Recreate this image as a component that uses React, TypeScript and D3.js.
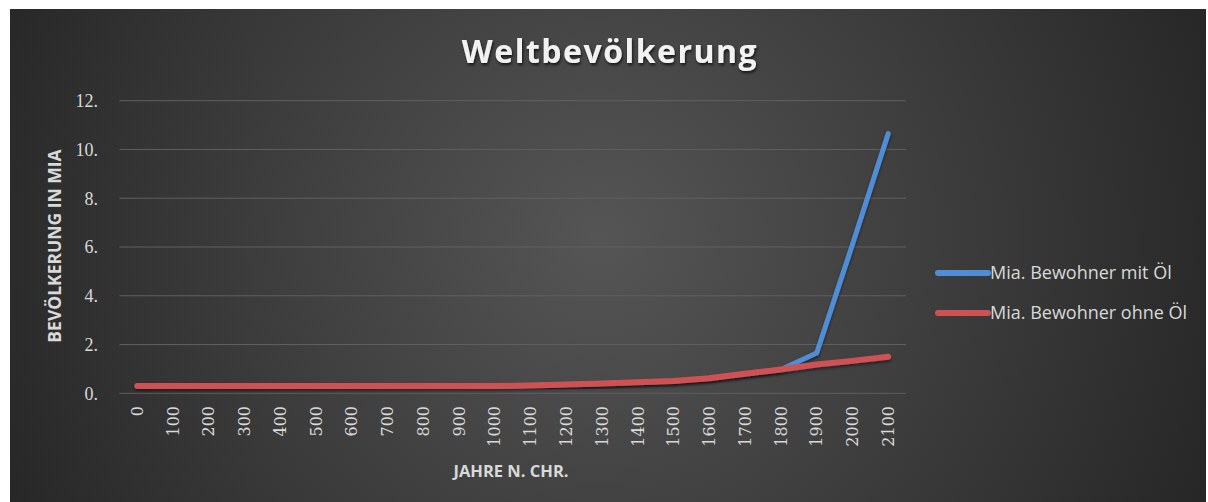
import * as d3 from 'd3'
import { useRef, useEffect } from 'react'

const years = ['0', '100', '200', '300', '400', '500', '600', '700', '800', '900', '1000',
    '1100', '1200', '1300', '1400', '1500', '1600', '1700', '1800', '1900', '2000', '2100']

const mitOel = [0.3, 0.3, 0.3, 0.3, 0.3, 0.3, 0.3, 0.3, 0.3, 0.3, 0.3,
    0.32, 0.36, 0.4, 0.45, 0.5, 0.62, 0.8, 0.98, 1.65, 6.1, 10.65]

const ohneOel = [0.3, 0.3, 0.3, 0.3, 0.3, 0.3, 0.3, 0.3, 0.3, 0.3, 0.3,
    0.32, 0.36, 0.4, 0.45, 0.5, 0.62, 0.8, 0.98, 1.18, 1.33, 1.5]

const yTicks = [0, 2, 4, 6, 8, 10, 12]

const seriesNames = ['Mia. Bewohner mit Öl', 'Mia. Bewohner ohne Öl']
const seriesColors = ['#4f8ed6', '#d05152']

export default function App() {
    const svgRef = useRef(null)

    useEffect(() => {
        const svg = d3.select(svgRef.current)
        svg.selectAll('*').remove()

        const W = 1208, H = 502
        svg.attr('width', W).attr('height', H)

        const defs = svg.append('defs')
        const grad = defs.append('radialGradient')
            .attr('id', 'bg')
            .attr('gradientUnits', 'userSpaceOnUse')
            .attr('cx', 600).attr('cy', 240).attr('r', 720)
        grad.append('stop').attr('offset', '0%').attr('stop-color', '#555555')
        grad.append('stop').attr('offset', '100%').attr('stop-color', '#222222')

        const shadow = defs.append('filter').attr('id', 'shadow')
            .attr('x', '-10%').attr('y', '-30%').attr('width', '120%').attr('height', '160%')
        shadow.append('feDropShadow')
            .attr('dx', 1).attr('dy', 2).attr('stdDeviation', 1.5)
            .attr('flood-color', '#000').attr('flood-opacity', 0.7)

        const lineShadow = defs.append('filter').attr('id', 'lshadow')
            .attr('x', '-10%').attr('y', '-10%').attr('width', '120%').attr('height', '120%')
        lineShadow.append('feDropShadow')
            .attr('dx', 0).attr('dy', 2).attr('stdDeviation', 1.5)
            .attr('flood-color', '#000').attr('flood-opacity', 0.5)

        svg.append('rect').attr('width', W).attr('height', H).attr('fill', '#ffffff')
        svg.append('rect')
            .attr('x', 10).attr('y', 9)
            .attr('width', 1196).attr('height', H - 9)
            .attr('fill', 'url(#bg)')

        const x = d3.scaleBand()
            .domain(years)
            .range([119.4, 906.1])
        const cx = d => x(d) + x.bandwidth() / 2

        const y = d3.scaleLinear()
            .domain([0, 12])
            .range([393.3, 100.7])

        // gridlines
        svg.append('g')
            .selectAll('line')
            .data(yTicks)
            .join('line')
            .attr('x1', 119.4).attr('x2', 906.1)
            .attr('y1', d => y(d)).attr('y2', d => y(d))
            .attr('stroke', '#606060')
            .attr('stroke-width', 1)

        // y tick labels
        svg.append('g')
            .selectAll('text')
            .data(yTicks)
            .join('text')
            .attr('x', 98)
            .attr('y', d => y(d))
            .attr('dy', '0.35em')
            .attr('text-anchor', 'end')
            .attr('font-family', '"Liberation Serif", serif')
            .attr('font-size', 18)
            .attr('fill', '#d9d9d9')
            .text(d => `${d}.`)

        // x tick labels
        svg.append('g')
            .selectAll('text')
            .data(years)
            .join('text')
            .attr('transform', d => `translate(${cx(d)},406) rotate(-90)`)
            .attr('dy', '0.35em')
            .attr('text-anchor', 'end')
            .attr('font-family', '"DejaVu Serif", serif')
            .attr('font-size', 16)
            .attr('fill', '#d9d9d9')
            .text(d => d)

        // lines
        const line = d3.line()
            .x((_, i) => cx(years[i]))
            .y(d => y(d))

        ;[mitOel, ohneOel].forEach((vals, i) => {
            svg.append('path')
                .datum(vals)
                .attr('d', line)
                .attr('fill', 'none')
                .attr('stroke', seriesColors[i])
                .attr('stroke-width', i === 0 ? 5 : 6)
                .attr('stroke-linecap', 'round')
                .attr('stroke-linejoin', 'round')
                .attr('filter', 'url(#lshadow)')
        })

        // title
        svg.append('text')
            .attr('x', 610).attr('y', 63)
            .attr('text-anchor', 'middle')
            .attr('font-family', '"Open Sans", sans-serif')
            .attr('font-weight', 'bold')
            .attr('font-size', 32)
            .attr('letter-spacing', 1.5)
            .attr('fill', '#f2f2f2')
            .attr('filter', 'url(#shadow)')
            .text('Weltbevölkerung')

        // axis titles
        svg.append('text')
            .attr('transform', 'translate(61,246) rotate(-90)')
            .attr('text-anchor', 'middle')
            .attr('font-family', '"Open Sans", sans-serif')
            .attr('font-weight', 'bold')
            .attr('font-size', 17.5)
            .attr('fill', '#d9d9d9')
            .text('BEVÖLKERUNG IN MIA')

        svg.append('text')
            .attr('x', 511).attr('y', 477)
            .attr('text-anchor', 'middle')
            .attr('font-family', '"Open Sans", sans-serif')
            .attr('font-weight', 'bold')
            .attr('font-size', 16.5)
            .attr('fill', '#d9d9d9')
            .text('JAHRE N. CHR.')

        // legend
        const legend = svg.append('g')
            .selectAll('g')
            .data(seriesNames)
            .join('g')
            .attr('transform', (_, i) => `translate(938,${273 + i * 40})`)
        legend.append('line')
            .attr('x1', 0).attr('x2', 50)
            .attr('stroke', (_, i) => seriesColors[i])
            .attr('stroke-width', 6)
            .attr('stroke-linecap', 'round')
        legend.append('text')
            .attr('x', 52)
            .attr('dy', '0.35em')
            .attr('font-family', '"Open Sans", sans-serif')
            .attr('font-size', 18)
            .attr('fill', '#d9d9d9')
            .text(d => d)
    }, [])

    return (
        <svg ref={svgRef} style={{ display: 'block', position: 'absolute', top: 0, left: 0 }}></svg>
    )
}
